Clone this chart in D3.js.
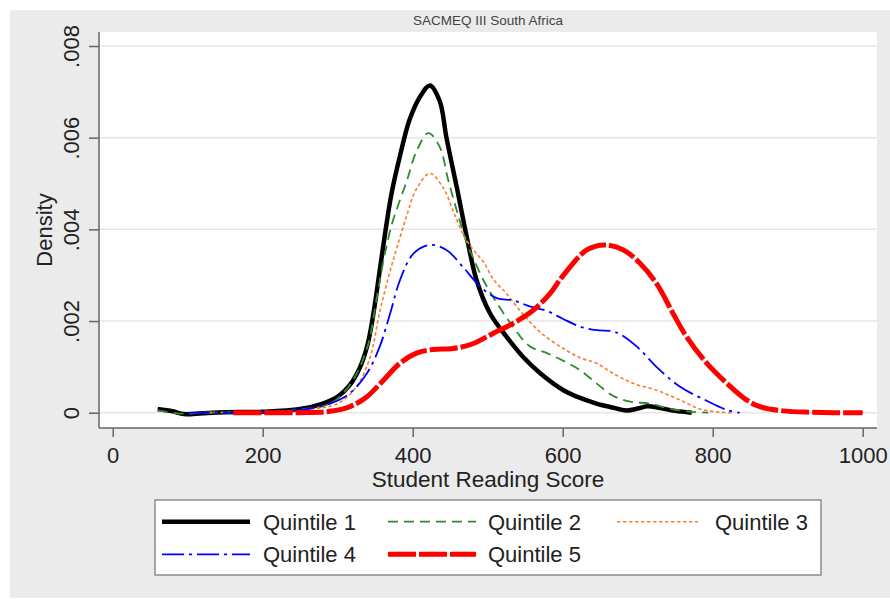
<!DOCTYPE html>
<html>
<head>
<meta charset="utf-8">
<script src="https://cdn.jsdelivr.net/npm/d3@7"></script>
<style>
  body { margin: 0; background: #fff; }
  text { font-family: "Liberation Sans", Arial, Helvetica, sans-serif; fill: #222; }
</style>
</head>
<body>
<div id="chart"></div>
<script>
// kernel density of student reading score, by SES quintile
const title = "SACMEQ III South Africa";
const xTicks = [0, 200, 400, 600, 800, 1000];
const yTicks = [0, 0.002, 0.004, 0.006, 0.008];
const quintiles = ["Quintile 1", "Quintile 2", "Quintile 3", "Quintile 4", "Quintile 5"];

// [score, density]
const q1 = [[60,0.00008],[80,0.00003],[95,-0.00003],[120,-0.00001],[150,0.00001],[200,0.00002],[250,0.00008],
  [280,0.0002],[300,0.00035],[316,0.0006],[330,0.0010],[340,0.0015],[348,0.0022],[356,0.0031],[364,0.004],[372,0.0048],
  [383,0.0056],[396,0.0064],[410,0.0069],[423,0.00714],[436,0.0068],[445,0.006],[459,0.0049],[472,0.00384],
  [485,0.0029],[503,0.00217],[525,0.00166],[547,0.00122],[570,0.00086],[601,0.00049],[619,0.00035],[645,0.0002],
  [665,0.00012],[685,0.00005],[700,0.00009],[713,0.00014],[730,0.0001],[750,0.00004],[772,0]];
const q2 = [[60,0.00005],[90,-0.00002],[120,0],[200,0.00002],[250,0.00007],[290,0.0002],[316,0.0006],[339,0.0014],
  [352,0.0025],[362,0.0034],[372,0.0041],[380,0.0045],[392,0.00505],[405,0.0057],[421,0.0061],[436,0.0058],
  [447,0.0051],[459,0.0044],[472,0.0037],[480,0.0034],[494,0.0029],[512,0.0024],[534,0.00187],[556,0.00145],
  [579,0.0013],[601,0.00113],[623,0.00093],[645,0.00064],[667,0.00037],[690,0.00024],[716,0.0002],[739,0.0001],
  [765,0.00003],[794,0]];
const q3 = [[120,0],[200,0.00002],[260,0.00007],[300,0.0002],[325,0.00057],[343,0.0012],[356,0.0022],[370,0.0031],
  [379,0.0036],[392,0.0043],[405,0.00488],[423,0.00522],[441,0.0049],[454,0.0044],[467,0.0039],[481,0.00355],
  [494,0.0033],[508,0.0029],[525,0.0026],[547,0.00215],[572,0.00173],[601,0.0014],[623,0.0012],
  [645,0.00108],[667,0.00086],[694,0.00064],[725,0.00049],[756,0.00028],[783,0.00008],[810,0.00001],[825,0]];
const q4 = [[100,0],[150,0],[200,0.00002],[250,0.00006],[290,0.0002],[316,0.00042],[339,0.00086],[356,0.00144],
  [370,0.00217],[383,0.00289],[401,0.00347],[423,0.00366],[445,0.00355],[467,0.00318],[490,0.00275],[512,0.0025],
  [534,0.00245],[556,0.00232],[579,0.00222],[600,0.00205],[623,0.00188],[645,0.0018],[665,0.00178],[676,0.00172],
  [699,0.00144],[725,0.001],[756,0.00057],[792,0.00026],[819,0.00006],[836,0]];
const q5 = [[161,0],[200,0],[250,0],[290,0.00003],[316,0.00013],[339,0.00035],[361,0.00071],[383,0.00108],
  [405,0.0013],[427,0.00138],[454,0.0014],[481,0.00151],[507,0.00173],[534,0.00195],[561,0.00224],[583,0.0026],
  [601,0.003],[632,0.00355],[656,0.00366],[681,0.00355],[703,0.00326],[725,0.00282],[747,0.00217],[765,0.00166],
  [792,0.00108],[819,0.00064],[845,0.00028],[863,0.00013],[894,0.00004],[930,0.00001],[961,0],[1000,0]];

const series = [q1, q2, q3, q4, q5];
const styles = [
  {color: "#000000", width: 4.5, dash: null},
  {color: "#2e8b2e", width: 1.8, dash: "10,6"},
  {color: "#fb7d32", width: 1.6, dash: "3.5,2.5"},
  {color: "#0000ff", width: 1.8, dash: "22,5,3,5"},
  {color: "#ff0000", width: 5, dash: "28,3"}
];

let width = 890, height = 599;
let plot = {left: 99, right: 877, top: 32, bottom: 428};
let fontSize = "22px";

const svg = d3.select("#chart").append("svg")
    .attr("width", width)
    .attr("height", height);

svg.append("rect").attr("x", 10).attr("y", 10).attr("width", 880).attr("height", 588).attr("fill", "#ebebeb");
svg.append("rect")
    .attr("x", plot.left).attr("y", plot.top)
    .attr("width", plot.right - plot.left).attr("height", plot.bottom - plot.top)
    .attr("fill", "#fff");

const xScale = d3.scaleLinear().domain([0, 1000]).range([112.7, 862.7]);
const yScale = d3.scaleLinear().domain([0, 0.008]).range([412.7, 46]);

// grid
svg.append("g").selectAll("line")
    .data(yTicks)
    .enter().append("line")
    .attr("x1", plot.left).attr("x2", plot.right)
    .attr("y1", d => yScale(d)).attr("y2", d => yScale(d))
    .attr("stroke", "#e6e6e6").attr("stroke-width", 1.5);

const yFmt = d => d === 0 ? "0" : d3.format(".3f")(d).replace(/^0/, "");

const yAxis = svg.append("g")
    .attr("transform", `translate(${plot.left},0)`)
    .call(d3.axisLeft(yScale).tickValues(yTicks).tickFormat(yFmt).tickSize(10).tickSizeOuter(0));
yAxis.select(".domain").remove();
yAxis.selectAll(".tick line").attr("stroke", "#666").attr("stroke-width", 1.5);
yAxis.selectAll(".tick text")
    .attr("transform", "rotate(-90)")
    .attr("x", 0).attr("y", -20).attr("dy", 0)
    .attr("text-anchor", "middle")
    .style("font-size", fontSize).style("font-family", null);

const xAxis = svg.append("g")
    .attr("transform", `translate(0,${plot.bottom})`)
    .call(d3.axisBottom(xScale).tickValues(xTicks).tickFormat(d3.format("d")).tickSize(9).tickSizeOuter(0));
xAxis.select(".domain").remove();
xAxis.selectAll(".tick line").attr("stroke", "#666").attr("stroke-width", 1.5);
xAxis.selectAll(".tick text")
    .attr("y", 35).attr("dy", 0)
    .style("font-size", fontSize).style("font-family", null);

// axis lines
svg.append("line").attr("x1", plot.left).attr("x2", plot.left).attr("y1", plot.top).attr("y2", plot.bottom)
    .attr("stroke", "#666").attr("stroke-width", 1.5);
svg.append("line").attr("x1", plot.left).attr("x2", plot.right).attr("y1", plot.bottom).attr("y2", plot.bottom)
    .attr("stroke", "#666").attr("stroke-width", 1.5);

// titles
svg.append("text").attr("x", (plot.left + plot.right) / 2).attr("y", 25)
    .attr("text-anchor", "middle").style("font-size", "13.5px").style("fill", "#444").text(title);
svg.append("text").attr("x", (plot.left + plot.right) / 2).attr("y", 487)
    .attr("text-anchor", "middle").style("font-size", "22.5px").text("Student Reading Score");
svg.append("text").attr("transform", `translate(52,${(plot.top + plot.bottom) / 2}) rotate(-90)`)
    .attr("text-anchor", "middle").style("font-size", fontSize).text("Density");

// curves
const line = d3.line()
    .x(d => xScale(d[0]))
    .y(d => yScale(d[1]))
    .curve(d3.curveCatmullRom.alpha(0.5));

svg.append("g").selectAll("path")
    .data(series)
    .enter().append("path")
    .attr("d", line)
    .attr("fill", "none")
    .attr("stroke", (d, i) => styles[i].color)
    .attr("stroke-width", (d, i) => styles[i].width)
    .attr("stroke-dasharray", (d, i) => styles[i].dash)
    .attr("stroke-linejoin", "round");

// legend
svg.append("rect").attr("x", 155).attr("y", 500).attr("width", 666).attr("height", 75)
    .attr("fill", "#fff").attr("stroke", "#8c8c8c").attr("stroke-width", 1.5);

const keyPos = [
  {x1: 162, x2: 250, tx: 263, y: 521.7},
  {x1: 388, x2: 476, tx: 488, y: 521.7},
  {x1: 617, x2: 698, tx: 715, y: 521.7},
  {x1: 162, x2: 250, tx: 263, y: 554.3},
  {x1: 388, x2: 476, tx: 488, y: 554.3}
];

legend = svg.selectAll(".legend")
    .data(quintiles)
    .enter().append("g")
    .attr("class", "legend");

legend.append("line")
    .attr("x1", (d, i) => keyPos[i].x1).attr("x2", (d, i) => keyPos[i].x2)
    .attr("y1", (d, i) => keyPos[i].y).attr("y2", (d, i) => keyPos[i].y)
    .attr("stroke", (d, i) => styles[i].color)
    .attr("stroke-width", (d, i) => styles[i].width)
    .attr("stroke-dasharray", (d, i) => styles[i].dash);

legend.append("text")
    .attr("x", (d, i) => keyPos[i].tx)
    .attr("y", (d, i) => keyPos[i].y + 8)
    .style("font-size", fontSize)
    .text(d => d);
</script>
</body>
</html>
